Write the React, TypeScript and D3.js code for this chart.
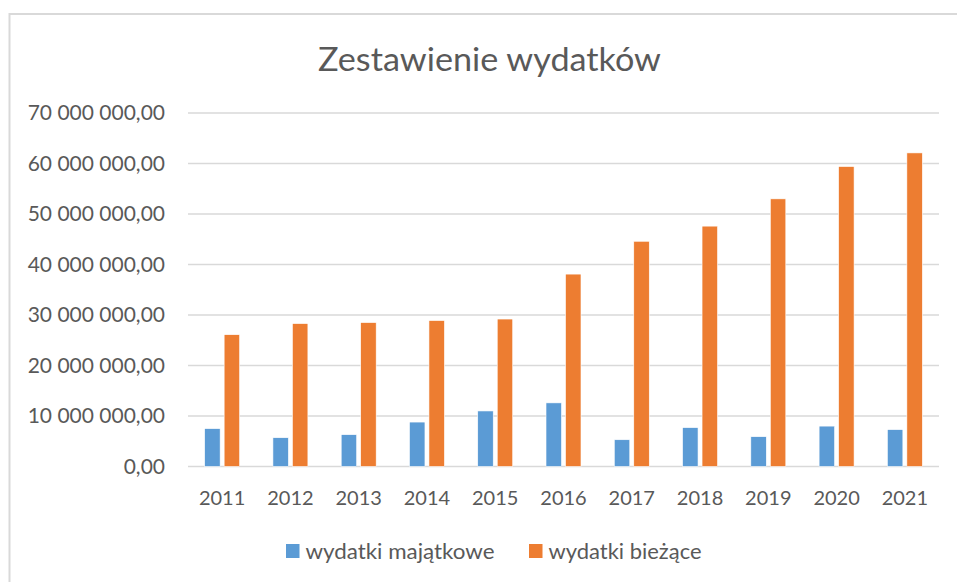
import React, { useEffect, useRef } from "react";
import * as d3 from "d3";

const years = ["2011", "2012", "2013", "2014", "2015", "2016", "2017", "2018", "2019", "2020", "2021"];
const majatkowe = [7.5e6, 5.7e6, 6.3e6, 8.8e6, 11.0e6, 12.6e6, 5.3e6, 7.7e6, 5.9e6, 8.0e6, 7.3e6];
const biezace = [26.1e6, 28.3e6, 28.5e6, 28.9e6, 29.2e6, 38.1e6, 44.6e6, 47.6e6, 53.0e6, 59.4e6, 62.1e6];
const seriesNames = ["wydatki majątkowe", "wydatki bieżące"];
const seriesColors = ["#5B9BD5", "#ED7D31"];
const yTicks = [0, 10e6, 20e6, 30e6, 40e6, 50e6, 60e6, 70e6];

const font = "Lato, 'Open Sans', sans-serif";
const textColor = "#595959";

export default function App() {
  const ref = useRef<SVGSVGElement>(null);

  useEffect(() => {
    const width = 957;
    const height = 582;
    const svg = d3.select(ref.current);
    svg.selectAll("*").remove();
    svg.attr("width", width).attr("height", height);

    svg.append("rect").attr("width", width).attr("height", height).attr("fill", "#fff");

    // chart frame
    svg.append("rect")
      .attr("x", 9.5).attr("y", 14)
      .attr("width", width + 10).attr("height", height + 10)
      .attr("fill", "none")
      .attr("stroke", "#d9d9d9")
      .attr("stroke-width", 2);

    const plotLeft = 188, plotRight = 939;
    const x = d3.scaleBand().domain(years).range([plotLeft, plotRight]);
    const y = d3.scaleLinear().domain([0, 70e6]).range([466.5, 113]);

    const x1 = d3.scaleBand()
      .domain(seriesNames)
      .range([0, x.step()])
      .paddingInner(0.205)
      .paddingOuter(0.854);

    const pl = d3.formatLocale({ decimal: ",", thousands: " ", grouping: [3], currency: ["", ""] });
    const fmt = pl.format(",.2f");

    // gridlines
    svg.append("g").selectAll("line")
      .data(yTicks)
      .enter()
      .append("line")
      .attr("x1", plotLeft).attr("x2", plotRight)
      .attr("y1", d => y(d)).attr("y2", d => y(d))
      .attr("stroke", "#d9d9d9")
      .attr("stroke-width", 1.3);

    // y labels
    svg.append("g").selectAll("text")
      .data(yTicks)
      .enter()
      .append("text")
      .attr("x", 165)
      .attr("y", d => y(d))
      .attr("dy", "0.35em")
      .attr("text-anchor", "end")
      .style("font-family", font)
      .style("font-size", "21px")
      .attr("fill", textColor)
      .text(d => fmt(d));

    // x labels
    svg.append("g").selectAll("text")
      .data(years)
      .enter()
      .append("text")
      .attr("x", d => (x(d) as number) + x.bandwidth() / 2)
      .attr("y", 505)
      .attr("text-anchor", "middle")
      .style("font-family", font)
      .style("font-size", "20px")
      .attr("fill", textColor)
      .text(d => d);

    // bars
    const values = [majatkowe, biezace];
    seriesNames.forEach((name, si) => {
      svg.append("g").selectAll("rect")
        .data(years)
        .enter()
        .append("rect")
        .attr("x", d => (x(d) as number) + (x1(name) as number))
        .attr("width", x1.bandwidth())
        .attr("y", (d, i) => y(values[si][i]))
        .attr("height", (d, i) => y(0) - y(values[si][i]))
        .attr("fill", seriesColors[si])
        .attr("stroke", "#fff")
        .attr("stroke-width", 0.6);
    });

    // title
    svg.append("text")
      .attr("x", 318)
      .attr("y", 71)
      .attr("textLength", 343)
      .attr("lengthAdjust", "spacingAndGlyphs")
      .style("font-family", font)
      .style("font-size", "33px")
      .attr("fill", textColor)
      .text("Zestawienie wydatków");

    // legend
    const legendX = [286, 529];
    const legendLen = [189, 153];
    seriesNames.forEach((name, si) => {
      const g = svg.append("g").attr("transform", "translate(" + legendX[si] + ",544)");
      g.append("rect")
        .attr("width", 13.5).attr("height", 14)
        .attr("fill", seriesColors[si]);
      g.append("text")
        .attr("x", 19.5)
        .attr("y", 15)
        .attr("textLength", legendLen[si])
        .attr("lengthAdjust", "spacingAndGlyphs")
        .style("font-family", font)
        .style("font-size", "21px")
        .attr("fill", textColor)
        .text(name);
    });
  }, []);

  return (
    <div style={{ position: "absolute", left: 0, top: 0 }}>
      <svg ref={ref} style={{ display: "block" }} />
    </div>
  );
}
